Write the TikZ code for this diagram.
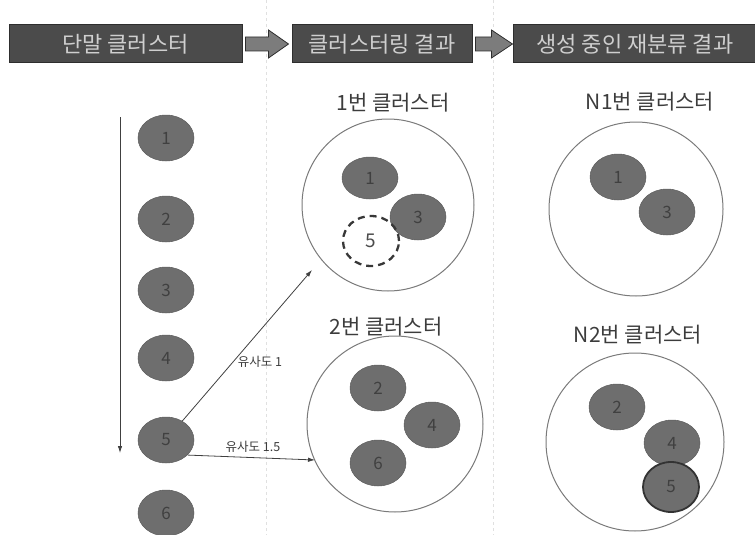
\documentclass[tikz,border=0pt]{standalone}
\usepackage{fontspec}
\setmainfont{Noto Sans CJK KR}
\usetikzlibrary{arrows.meta,calc,shapes.geometric}
\definecolor{barfill}{HTML}{4B4B4B}
\definecolor{bardraw}{HTML}{2E2E2E}
\definecolor{bartext}{HTML}{CFCFCF}
\definecolor{arrfill}{HTML}{7C7C7C}
\definecolor{ballfill}{HTML}{6E6E6E}
\definecolor{ballnum}{HTML}{404040}
\definecolor{ringcol}{HTML}{7A7A7A}
\definecolor{labcol}{HTML}{3C3C3C}
\tikzset{
  hbar/.style={draw=bardraw, line width=1pt, fill=barfill, text=bartext,
    minimum height=38pt, inner sep=0pt, font=\fontsize{22}{22}\selectfont},
  barrow/.style={draw=bardraw, line width=0.8pt, fill=arrfill},
  ball/.style={ellipse, fill=ballfill, draw=ballfill!85!black, line width=0.5pt,
    minimum width=56pt, minimum height=46pt, inner sep=0pt, text=ballnum,
    font=\fontsize{17}{17}\selectfont},
  ring/.style={circle, draw=ringcol, line width=1pt, inner sep=0pt},
  clab/.style={text=labcol, inner sep=0pt, font=\fontsize{21}{21}\selectfont},
  simlab/.style={text=labcol, inner sep=0pt, font=\fontsize{12.5}{12.5}\selectfont},
  link/.style={draw=black!75, line width=0.8pt, -{Latex[length=7pt,width=4.5pt]}},
  divider/.style={draw=black!12, line width=1pt, dash pattern=on 3pt off 3pt}
}
\begin{document}
\begin{tikzpicture}[x=1pt,y=-1pt]
\useasboundingbox (0,0) rectangle (755,535);
% faint dividers
\draw[divider] (266,0) -- (266,535);
\draw[divider] (493,0) -- (493,535);
% header bars
\node[hbar, minimum width=233pt] (h1) at (125.5,44) {단말 클러스터};
\node[hbar, minimum width=180pt] (h2) at (382,44) {클러스터링 결과};
\node[hbar, minimum width=244pt] (h3) at (635,44) {생성 중인 재분류 결과};
\draw[barrow] ($(h1.east)+(3,-7)$) -- ($(h1.east)+(26,-7)$) -- ($(h1.east)+(26,-14)$)
  -- ($(h1.east)+(46,0)$) -- ($(h1.east)+(26,14)$) -- ($(h1.east)+(26,7)$)
  -- ($(h1.east)+(3,7)$) -- cycle;
\draw[barrow] ($(h2.east)+(3,-7)$) -- ($(h2.east)+(19,-7)$) -- ($(h2.east)+(19,-14)$)
  -- ($(h2.east)+(40,0)$) -- ($(h2.east)+(19,14)$) -- ($(h2.east)+(19,7)$)
  -- ($(h2.east)+(3,7)$) -- cycle;
% left column
\coordinate (vtop) at (120,117);
\coordinate (vbot) at (120,453);
\draw[link] (vtop) -- (vbot);
\node[ball] (b1) at (166,138) {1};
\node[ball] (b2) at (166,219) {2};
\node[ball] (b3) at (166,290) {3};
\node[ball] (b4) at (166,358) {4};
\node[ball] (b5) at (166,440) {5};
\node[ball] (b6) at (166,513) {6};
% cluster results
\node[ring, minimum size=172pt] (r1) at (388,205) {};
\node[ring, minimum size=176pt] (r2) at (395,424) {};
\node[clab] (l1) at (393,103) {1번 클러스터};
\node[clab] (l2) at (386,327) {2번 클러스터};
\node[ball, minimum height=42pt] (r1a) at (370,178) {1};
\node[ball] (r1b) at (418,217) {3};
\node[ellipse, draw=black!78, line width=2.3pt, dash pattern=on 7pt off 5pt,
  minimum width=56pt, minimum height=50pt, inner sep=0pt, text=black!70,
  font=\fontsize{19}{19}\selectfont] (r1c) at (371,241) {5};
\node[ball] (r2a) at (378,388) {2};
\node[ball] (r2b) at (432,425) {4};
\node[ball] (r2c) at (378,463) {6};
% arrows with similarity
\coordinate (t1) at (312,270);
\coordinate (t2) at (315,460);
\draw[link] (b5) -- (t1);
\draw[link] (b5.-35) -- (t2);
\node[simlab] (s1) at (260,362) {유사도 1};
\node[simlab] (s2) at (253,447) {유사도 1.5};
% new reclassification
\node[ring, minimum size=174pt] (n1) at (636,209) {};
\node[ring, minimum size=178pt] (n2) at (635,442) {};
\node[clab] (ln1) at (650,102) {N1번 클러스터};
\node[clab] (ln2) at (638,335) {N2번 클러스터};
\node[ball] (n1a) at (618,177) {1};
\node[ball] (n1b) at (667,212) {3};
\node[ball] (n2a) at (617,407) {2};
\node[ball] (n2b) at (672,443) {4};
\node[ball, draw=black!80, line width=1.8pt, minimum height=50pt] (n2c) at (671,487) {5};
\end{tikzpicture}
\end{document}
